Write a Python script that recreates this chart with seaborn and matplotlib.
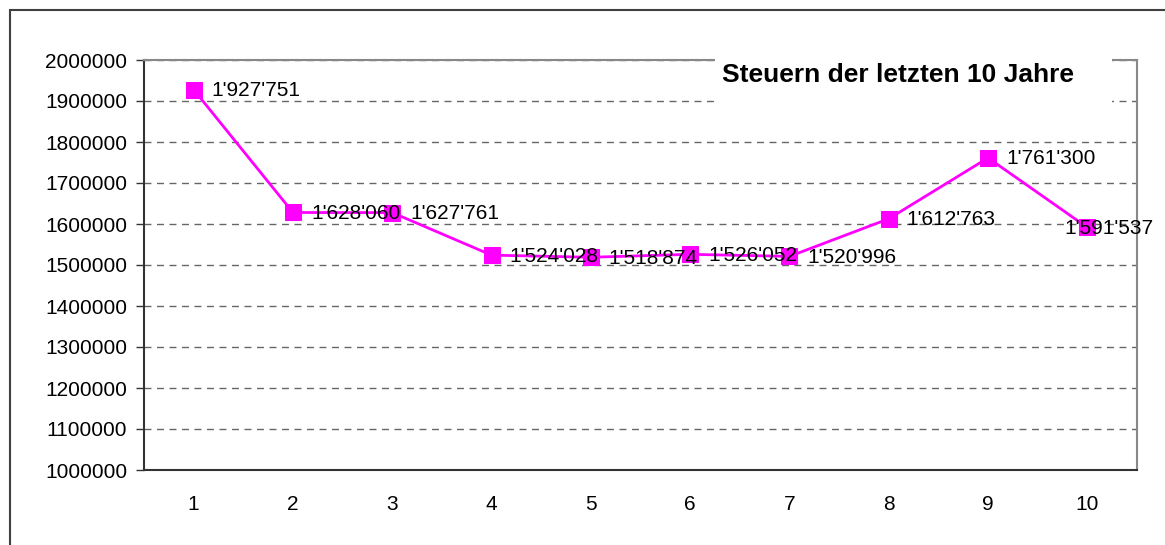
import matplotlib
matplotlib.use("Agg")
import matplotlib.pyplot as plt
import seaborn as sns
import pandas as pd
from matplotlib.patches import Rectangle

# data
years = [1, 2, 3, 4, 5, 6, 7, 8, 9, 10]
steuern = [1927751, 1628060, 1627761, 1524028, 1518874, 1526052, 1520996, 1612763, 1761300, 1591537]
labels = ["1'927'751", "1'628'060", "1'627'761", "1'524'028", "1'518'874",
          "1'526'052", "1'520'996", "1'612'763", "1'761'300", "1'591'537"]
y_ticks = [1000000, 1100000, 1200000, 1300000, 1400000, 1500000,
           1600000, 1700000, 1800000, 1900000, 2000000]

sns.set_style("white")
plt.rcParams['font.family'] = ['Liberation Sans', 'DejaVu Sans']
plt.rcParams['text.color'] = 'black'
plt.rcParams['xtick.color'] = 'black'
plt.rcParams['ytick.color'] = 'black'

df = pd.DataFrame({'pos': range(len(years)), 'wert': steuern})

fig = plt.figure(figsize=(11.65, 5.45), dpi=100)
ax = fig.add_axes([144 / 1165, 1 - 470 / 545, (1137 - 144) / 1165, (470 - 60) / 545])

# outer chart frame
fig.patches.append(Rectangle((10 / 1165, -0.1), 1.2, 1 - 10 / 545 + 0.1,
                             transform=fig.transFigure, fill=False,
                             edgecolor='#404040', linewidth=1.5, zorder=0))

sns.lineplot(data=df, x='pos', y='wert', ax=ax, color='#ff00ff', linewidth=2,
             marker='s', markersize=12, markeredgecolor='#ff00ff', zorder=3)

for i, (v, lab) in enumerate(zip(steuern, labels)):
    # last label is pushed back inside the plot area, like in the original
    dx = -23 if i == len(years) - 1 else 18
    ax.annotate(lab, (i, v), xytext=(dx, -1), textcoords='offset pixels',
                va='center', ha='left', fontsize=15, color='black', zorder=4,
                annotation_clip=False)

ax.set_xlim(-0.5, len(years) - 0.5)
ax.set_ylim(1000000, 2000000)
ax.set_yticks(y_ticks)
ax.set_yticklabels([str(t) for t in y_ticks], fontsize=15)
ax.yaxis.grid(True, linestyle=(0, (5, 4)), color='#666666', linewidth=1)
ax.set_axisbelow(True)

# category labels between tick marks
ax.set_xticks([i - 0.5 for i in range(len(years) + 1)])
ax.set_xticklabels([])
ax.set_xticks(range(len(years)), minor=True)
ax.set_xticklabels([str(y) for y in years], minor=True, fontsize=15)
ax.tick_params(axis='x', which='major', length=7, width=1, color='#333333', direction='out')
ax.tick_params(axis='x', which='minor', length=0, pad=18)
ax.tick_params(axis='y', length=6, width=1, color='#333333', direction='out', left=True, pad=6)

ax.set_xlabel('')
ax.set_ylabel('')
for side in ['left', 'bottom']:
    ax.spines[side].set_color('#333333')
    ax.spines[side].set_linewidth(1.5)
for side in ['top', 'right']:
    ax.spines[side].set_color('#888888')
    ax.spines[side].set_linewidth(1.5)

# title sits in a white box over the top border
fig.patches.append(Rectangle((715 / 1165, 1 - 104 / 545), (1112 - 715) / 1165, 59 / 545,
                             transform=fig.transFigure, facecolor='white',
                             edgecolor='none', zorder=9))
fig.text(898 / 1165, 1 - 75 / 545, 'Steuern der letzten 10 Jahre', ha='center', va='center',
         fontsize=19, fontweight='bold', zorder=10)

fig.savefig('out.png', dpi=100)
